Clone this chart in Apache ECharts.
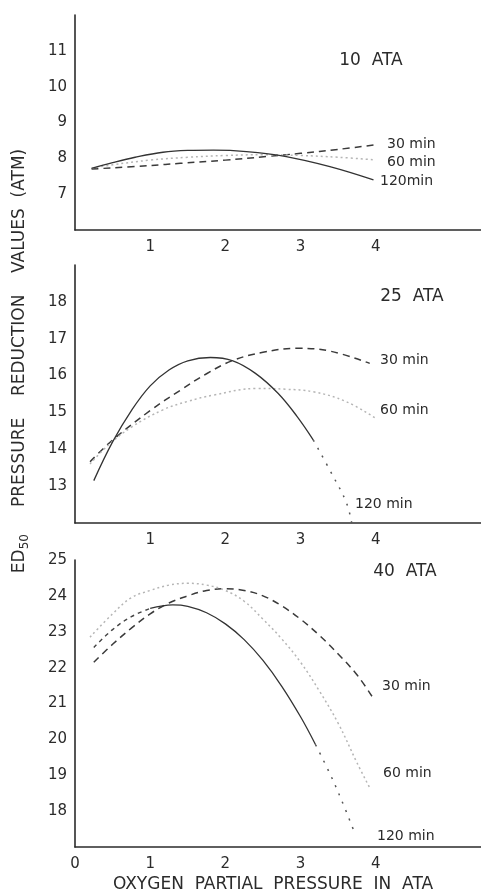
<!DOCTYPE html>
<html>
<head>
    <meta charset="UTF-8">
    <title></title>
    <script type="text/javascript" src="https://cdn.jsdelivr.net/npm/echarts@6/dist/echarts.min.js"></script>
    <style>
        html, body { margin: 0; padding: 0; background: #fff; }
        #chart { width: 481px; height: 895px; }
    </style>
</head>
<body>
<div id="chart"></div>
<script>
    // 10 ATA
    var ata10_30 = [[0.22, 7.70], [1.0, 7.80], [1.4, 7.86], [2.0, 7.95], [2.55, 8.05], [3.0, 8.14], [3.5, 8.25], [3.97, 8.37]];
    var ata10_60 = [[0.22, 7.72], [0.5, 7.82], [1.0, 7.95], [1.5, 8.03], [2.0, 8.08], [2.5, 8.10], [3.0, 8.08], [3.5, 8.03], [3.97, 7.96]];
    var ata10_120 = [[0.22, 7.72], [0.5, 7.88], [0.8, 8.03], [1.17, 8.17], [1.5, 8.22], [1.84, 8.23], [2.28, 8.19], [2.81, 8.05], [3.39, 7.77], [3.97, 7.40]];
    // 25 ATA
    var ata25_30 = [[0.2, 13.66], [0.5, 14.25], [1.0, 15.05], [1.4, 15.6], [1.75, 16.05], [2.1, 16.41], [2.5, 16.63], [2.95, 16.74], [3.4, 16.66], [3.92, 16.33]];
    var ata25_60 = [[0.2, 13.6], [0.42, 14.07], [0.75, 14.6], [1.17, 15.07], [1.5, 15.3], [1.84, 15.47], [2.42, 15.65], [2.8, 15.63], [3.17, 15.56], [3.6, 15.3], [4.0, 14.84]];
    var ata25_120 = [[0.25, 13.15], [0.5, 14.2], [0.75, 15.05], [1.0, 15.72], [1.25, 16.15], [1.5, 16.4], [1.8, 16.49], [2.1, 16.4], [2.4, 16.06], [2.7, 15.52], [2.95, 14.9], [3.17, 14.25]];
    var ata25_120ext = [[3.17, 14.25], [3.43, 13.28], [3.61, 12.55], [3.68, 12.0]];
    // 40 ATA
    var ata40_30 = [[0.25, 22.15], [0.5, 22.65], [0.75, 23.1], [1.0, 23.5], [1.25, 23.8], [1.5, 24.0], [1.75, 24.15], [2.0, 24.2], [2.25, 24.15], [2.5, 24.0], [2.75, 23.72], [3.0, 23.35], [3.25, 22.9], [3.5, 22.38], [3.75, 21.8], [3.95, 21.2]];
    var ata40_60 = [[0.2, 22.85], [0.5, 23.5], [0.75, 23.95], [1.0, 24.15], [1.25, 24.3], [1.5, 24.35], [1.75, 24.3], [2.0, 24.15], [2.25, 23.85], [2.5, 23.35], [2.75, 22.8], [3.0, 22.15], [3.25, 21.35], [3.5, 20.45], [3.75, 19.35], [3.92, 18.65]];
    var ata40_120pre = [[0.25, 22.56], [0.5, 23.06], [0.75, 23.42], [1.0, 23.65]];
    var ata40_120 = [[1.0, 23.65], [1.3, 23.75], [1.5, 23.71], [1.75, 23.53], [2.0, 23.22], [2.25, 22.78], [2.5, 22.2], [2.75, 21.48], [3.0, 20.63], [3.2, 19.85]];
    var ata40_120ext = [[3.2, 19.85], [3.4, 19.0], [3.55, 18.28], [3.7, 17.5]];

    // tick labels shown on each panel
    var xLabelsTop = [1, 2, 3, 4];
    var xLabelsBottom = [0, 1, 2, 3, 4];
    var yLabels10 = [7, 8, 9, 10, 11];
    var yLabels25 = [13, 14, 15, 16, 17, 18];
    var yLabels40 = [18, 19, 20, 21, 22, 23, 24, 25];

    var ink = '#2b2b2b';
    var font = 'DejaVu Sans';

    function xAxis(idx, shown) {
        return {
            type: 'value', gridIndex: idx, min: 0, max: 5.4, interval: 1,
            axisLine: {lineStyle: {color: ink, width: 1.6}},
            axisTick: {show: false},
            splitLine: {show: false},
            axisLabel: {
                margin: 10, color: ink, fontSize: 15, fontFamily: font,
                showMaxLabel: false,
                formatter: function (v) { return shown.indexOf(v) >= 0 ? String(v) : ''; }
            }
        };
    }

    function yAxis(idx, min, max, shown) {
        return {
            type: 'value', gridIndex: idx, min: min, max: max, interval: 1,
            axisLine: {show: true, lineStyle: {color: ink, width: 1.6}},
            axisTick: {show: false},
            splitLine: {show: false},
            axisLabel: {
                margin: 8, color: ink, fontSize: 15, fontFamily: font,
                formatter: function (v) { return shown.indexOf(v) >= 0 ? String(v) : ''; }
            }
        };
    }

    function line(idx, data, kind) {
        var st = {
            dash: {color: '#3a3a3a', width: 1.5, type: [7, 5]},
            dot: {color: '#b5b5b5', width: 1.5, type: [2, 3]},
            solid: {color: '#333', width: 1.3, type: 'solid'},
            sparse: {color: '#555', width: 1.5, type: [2, 7]},
            shortdash: {color: '#444', width: 1.4, type: [4, 4]}
        }[kind];
        return {
            type: 'line', xAxisIndex: idx, yAxisIndex: idx, data: data,
            smooth: 0.4, showSymbol: false, silent: true,
            lineStyle: st
        };
    }

    function label(x, y, text, size, align) {
        return {
            type: 'text', x: x, y: y, silent: true,
            style: {
                text: text, fill: ink, fontSize: size || 14, fontFamily: font,
                align: align || 'left', verticalAlign: 'middle'
            }
        };
    }

    var myChart = echarts.init(document.getElementById('chart'));
    myChart.setOption({
        animation: false,
        backgroundColor: '#fff',
        grid: [
            {left: 75, right: 0, top: 15, height: 215},
            {left: 75, right: 0, top: 265, height: 258},
            {left: 75, right: 0, top: 560, height: 287}
        ],
        xAxis: [xAxis(0, xLabelsTop), xAxis(1, xLabelsTop), xAxis(2, xLabelsBottom)],
        yAxis: [yAxis(0, 6, 12, yLabels10), yAxis(1, 12, 19, yLabels25), yAxis(2, 17, 25, yLabels40)],
        series: [
            line(0, ata10_30, 'dash'),
            line(0, ata10_60, 'dot'),
            line(0, ata10_120, 'solid'),
            line(1, ata25_30, 'dash'),
            line(1, ata25_60, 'dot'),
            line(1, ata25_120, 'solid'),
            line(1, ata25_120ext, 'sparse'),
            line(2, ata40_30, 'dash'),
            line(2, ata40_60, 'dot'),
            line(2, ata40_120pre, 'shortdash'),
            line(2, ata40_120, 'solid'),
            line(2, ata40_120ext, 'sparse')
        ],
        graphic: [
            label(371, 61, '10  ATA', 17, 'center'),
            label(387, 144, '30 min'),
            label(387, 162, '60 min'),
            label(380, 181, '120min'),
            label(412, 297, '25  ATA', 17, 'center'),
            label(380, 360, '30 min'),
            label(380, 410, '60 min'),
            label(355, 504, '120 min'),
            label(405, 572, '40  ATA', 17, 'center'),
            label(382, 686, '30 min'),
            label(383, 773, '60 min'),
            label(377, 836, '120 min'),
            label(273, 885, 'OXYGEN  PARTIAL  PRESSURE  IN  ATA', 17, 'center'),
            {
                type: 'text', x: 20, y: 361, rotation: Math.PI / 2, silent: true,
                style: {
                    text: '{a|ED}{s|50}{a|     PRESSURE    REDUCTION    VALUES  (ATM)}',
                    align: 'center', verticalAlign: 'middle',
                    rich: {
                        a: {fill: ink, fontSize: 17, fontFamily: font, lineHeight: 22},
                        s: {fill: ink, fontSize: 12, fontFamily: font, lineHeight: 22, verticalAlign: 'bottom', padding: [9, 0, 0, 0]}
                    }
                }
            }
        ]
    });
</script>
</body>
</html>
